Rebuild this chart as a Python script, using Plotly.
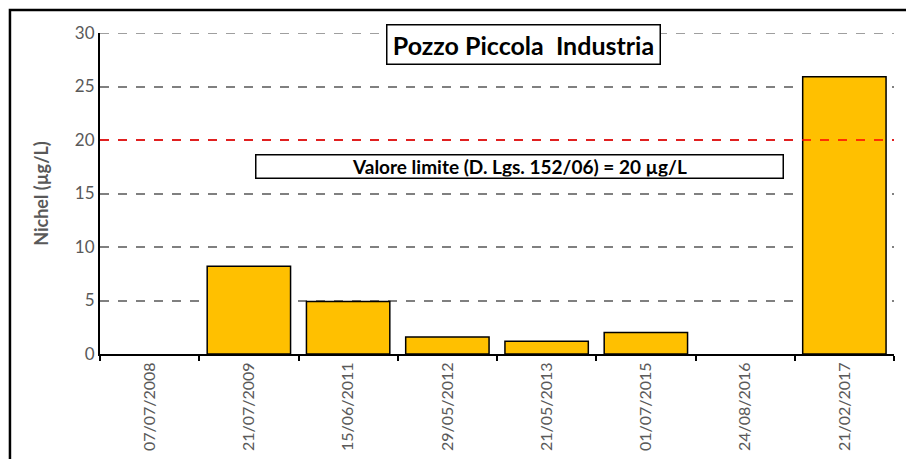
import plotly.graph_objects as go

dates = ["07/07/2008", "21/07/2009", "15/06/2011", "29/05/2012",
         "21/05/2013", "01/07/2015", "24/08/2016", "21/02/2017"]
nichel = [None, 8.2, 4.9, 1.6, 1.2, 2.0, None, 25.9]
limit_value = 20
y_ticks = [0, 5, 10, 15, 20, 25, 30]

FONT = "Lato"
GRAY = "#595959"

fig = go.Figure()
fig.add_trace(go.Bar(
    x=dates, y=nichel,
    marker=dict(color="#FFC000", line=dict(color="black", width=1.5)),
    width=0.84,
))

# top gridline (Plotly omits grid at the range edge)
fig.add_shape(type="line", xref="paper", yref="y", x0=0, x1=1,
              y0=y_ticks[-1], y1=y_ticks[-1],
              line=dict(color="#808080", width=1.5, dash="dash"), layer="below")

fig.add_shape(type="line", xref="paper", yref="y", x0=0, x1=1,
              y0=limit_value, y1=limit_value,
              line=dict(color="#FF0000", width=1.5, dash="dash"), layer="above")

# outer frame
fig.add_shape(type="rect", xref="paper", yref="paper",
              x0=-0.1134, x1=1.2, y0=-0.6, y1=1.0717,
              line=dict(color="black", width=2.5), layer="above")

fig.add_annotation(xref="paper", yref="paper", x=0.534, y=0.963,
                   text="<b>Pozzo Piccola  Industria</b>", showarrow=False,
                   font=dict(family=FONT, size=25, color="black"),
                   width=268, height=34, bordercolor="black", borderwidth=1.5,
                   borderpad=2, bgcolor="white", xanchor="center", yanchor="middle")

fig.add_annotation(xref="paper", yref="y", x=0.5283, y=17.48,
                   text="<b>Valore limite (D. Lgs. 152/06) = 20 µg/L</b>", showarrow=False,
                   font=dict(family=FONT, size=19, color="black"),
                   width=524, height=20, bordercolor="black", borderwidth=1.5,
                   borderpad=1, bgcolor="white", xanchor="center", yanchor="middle")

fig.update_layout(
    width=906, height=459,
    margin=dict(l=100, r=12, t=33, b=105),
    plot_bgcolor="white", paper_bgcolor="white",
    showlegend=False,
    font=dict(family=FONT),
    bargap=0.16,
    xaxis=dict(
        type="category", tickangle=-90, tickson="boundaries",
        ticks="outside", ticklen=5, tickcolor="black", tickwidth=1.5,
        showline=True, linecolor="black", linewidth=2,
        tickfont=dict(family=FONT, size=16, color=GRAY),
        showgrid=False, automargin=False,
    ),
    yaxis=dict(
        range=[0, 30], tickvals=y_ticks, ticks="",
        showline=True, linecolor="black", linewidth=2,
        showgrid=True, gridcolor="#808080", gridwidth=1.5, griddash="dash",
        tickfont=dict(family=FONT, size=17, color=GRAY),
        title=dict(text="<b>Nichel (µg/L)</b>", font=dict(family=FONT, size=18, color=GRAY),
                   standoff=22),
        zeroline=False, automargin=False,
    ),
)

fig.write_html("out.html",
               config={"displayModeBar": False},
               post_script="document.body.style.margin='0';document.body.style.overflow='hidden';")
